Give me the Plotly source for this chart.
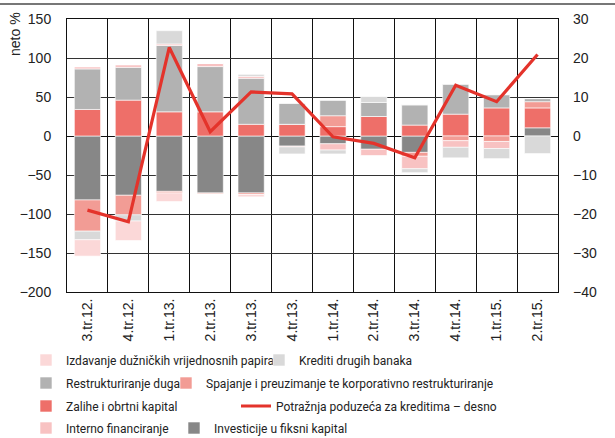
import plotly.graph_objects as go

# quarters
quarters = ['3.tr.12.', '4.tr.12.', '1.tr.13.', '2.tr.13.', '3.tr.13.', '4.tr.13.',
            '1.tr.14.', '2.tr.14.', '3.tr.14.', '4.tr.14.', '1.tr.15.', '2.tr.15.']

# net percentages (left axis)
investicije = [-82, -76, -71, -73, -73, -13, -10, -17, -21, 0, 0, 10.5]
zalihe = [34, 46, 31, 31, 15, 15, 12, 25, 14, 28, 36, 25.5]
spajanje = [-40, -25, -2, -1, -2, 0, 14, 0, -5, -6, -7, 8]
restrukturiranje = [52, 42, 85, 58, 59, 27, 20, 18, 26, 38.5, 17, 4]
interno = [2.5, 3, 2, 4, 2.5, -1, -8, -8, -16, -8.5, -9, 0]
krediti = [-11, -8, 17, 0, 2.5, -9, -5, 8, -5, -13.5, -13, -22.5]
izdavanje = [-21, -25, -11, 0, -3, 0, 0, 0, 0, 0, 0, 0]

# loan demand (right axis)
potraznja = [-19, -22, 22.7, 1.1, 11.3, 10.8, -0.2, -1.9, -5.6, 13, 8.8, 20.9]

FONT = 'Liberation Sans, Arial, sans-serif'
NARROW = 'Roboto, sans-serif'

# trace order sets the stacking order (positive up, negative down)
series = [
    ('Investicije u fiksni kapital', investicije, '#878787', 'legend8'),
    ('Zalihe i obrtni kapital', zalihe, '#ee6f69', 'legend5'),
    ('Spajanje i preuzimanje te korporativno restrukturiranje', spajanje, '#f29c95', 'legend4'),
    ('Restrukturiranje duga', restrukturiranje, '#b2b2b2', 'legend3'),
    ('Interno financiranje', interno, '#f8c2c2', 'legend7'),
    ('Krediti drugih banaka', krediti, '#d9d9d9', 'legend2'),
    ('Izdavanje dužničkih vrijednosnih papira', izdavanje, '#fbd8d8', 'legend'),
]

fig = go.Figure()
for name, vals, color, leg in series:
    fig.add_trace(go.Bar(x=quarters, y=vals, name=name, legend=leg, showlegend=True,
                         marker=dict(color=color, line=dict(color='white', width=0.6))))

fig.add_trace(go.Scatter(x=quarters, y=potraznja, yaxis='y2', mode='lines', showlegend=True,
                         name='Potražnja poduzeća za kreditima – desno', legend='legend6',
                         line=dict(color='#e4332b', width=3.2)))

# plot area in pixels: left 67, right 558, top 19, bottom 292
L, R, T, B = 67, 558, 19, 292
W, H = R - L, B - T


def px_x(p):
    return (p - L) / W


def px_y(p):
    return (B - p) / H


# legend rows: (text start x, row centre y)
row_y = [360, 383, 406, 428]
legend_pos = {
    'legend': (64, row_y[0]), 'legend2': (297, row_y[0]),
    'legend3': (64, row_y[1]), 'legend4': (204, row_y[1]),
    'legend5': (64, row_y[2]), 'legend6': (274, row_y[2]),
    'legend7': (64, row_y[3]), 'legend8': (212, row_y[3]),
}
legends = {}
for key, (tx, ty) in legend_pos.items():
    legends[key] = dict(x=px_x(tx - 38), y=px_y(ty), xanchor='left', yanchor='middle',
                        orientation='h', bgcolor='rgba(0,0,0,0)',
                        font=dict(family=NARROW, size=12, color='#222'))

fig.update_layout(
    width=615, height=438,
    margin=dict(l=L, r=615 - R, t=T, b=438 - B, autoexpand=False),
    paper_bgcolor='white', plot_bgcolor='white',
    showlegend=True,
    barmode='relative', bargap=0.36,
    font=dict(family=FONT, size=14, color='#222'),
    xaxis=dict(type='category', tickson='boundaries', showgrid=True, gridcolor='#111',
               gridwidth=1, showline=True, mirror=True, linecolor='#111', linewidth=1,
               tickangle=-90, ticks='', tickfont=dict(size=14)),
    yaxis=dict(range=[-200, 150], dtick=50, showgrid=True, gridcolor='#333', gridwidth=1,
               zeroline=True, zerolinecolor='#111', zerolinewidth=1,
               showline=True, mirror=True, linecolor='#111', linewidth=1,
               ticks='', ticklabelstandoff=12, tickfont=dict(size=14)),
    yaxis2=dict(range=[-40, 30], dtick=10, overlaying='y', side='right', showgrid=False,
                zeroline=False, ticks='', ticklabelstandoff=14, tickfont=dict(size=14)),
    **legends,
)

fig.add_annotation(text='neto %', xref='paper', yref='paper', x=px_x(15), y=px_y(34),
                   xanchor='center', yanchor='middle', textangle=-90, showarrow=False,
                   font=dict(family=FONT, size=14))

# thin rule along the top of the figure
fig.add_shape(type='line', xref='paper', yref='paper', x0=px_x(0), x1=px_x(615),
              y0=px_y(4), y1=px_y(4), line=dict(color='#777', width=2))

# drop the page's default body margin so the figure sits at the window's corner
fig.write_html('out.html', config={'displayModeBar': False},
               post_script="document.body.style.margin='0';")
